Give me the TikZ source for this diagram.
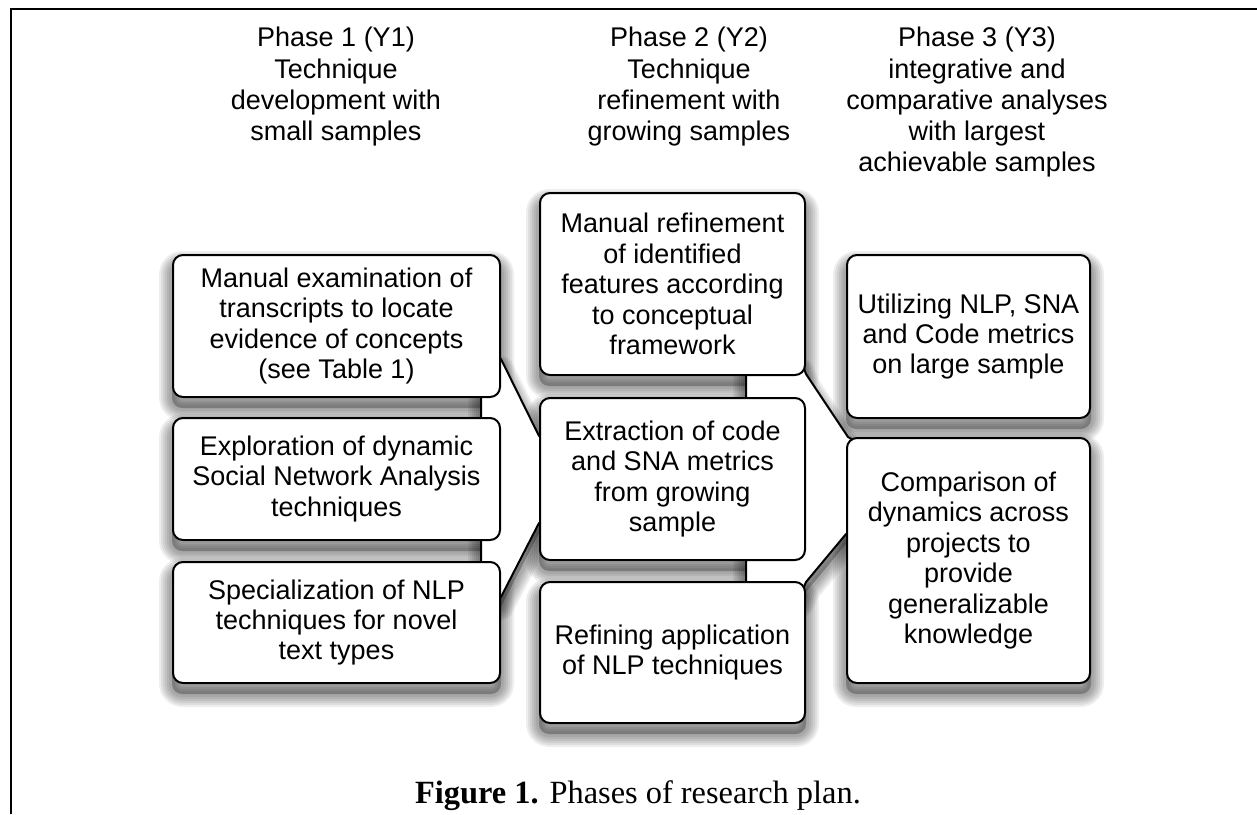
\documentclass[tikz,border=0pt]{standalone}
\usepackage{fontspec}
\setmainfont{Liberation Serif}
\newfontfamily\boxfont{Liberation Sans}
\usetikzlibrary{calc}
\pgfdeclarelayer{bglayer}
\pgfdeclarelayer{shadowlayer}
\pgfdeclarelayer{toplayer}
\pgfsetlayers{bglayer,shadowlayer,main,toplayer}
\newcommand\castshadow[1]{\path[shadowfill] #1;\foreach \w in {13,11,9,7,5,3}{\path[shadowstroke, line width=\w pt] #1;}}
\begin{document}
\begin{tikzpicture}[x=0.5pt,y=-0.5pt,
  box/.style={draw, line width=1pt, rounded corners=5pt, fill=white, align=center, inner sep=0pt,
    font=\boxfont\fontsize{13.5}{15.2}\selectfont},
  head/.style={align=center, inner sep=0pt, anchor=north, font=\boxfont\fontsize{13.5}{15.6}\selectfont},
  conn/.style={draw=black, fill=white, line width=1pt, line join=round},
  shadowfill/.style={fill=black, fill opacity=0.25, transform canvas={yshift=-5pt}},
  shadowstroke/.style={draw=black, draw opacity=0.065, line join=round, transform canvas={yshift=-5pt}},
  frame/.style={line width=1pt}]
\useasboundingbox (0,0) rectangle (1257,814);
\begin{pgfonlayer}{bglayer}
\fill[white] (0,0) rectangle (1257,814);
\end{pgfonlayer}

% frame
\coordinate (ftop) at (1257,9);
\coordinate (fcorner) at (11,9);
\coordinate (fbot) at (11,814);
\draw[frame] (ftop) -- (fcorner) -- (fbot);

% headers
\node[head] (H1) at (336,27) {Phase 1 (Y1)\\Technique\\development with\\small samples};
\node[head] (H2) at (689,27) {Phase 2 (Y2)\\Technique\\refinement with\\growing samples};
\node[head] (H3) at (977,27) {Phase 3 (Y3)\\integrative and\\comparative analyses\\with largest\\achievable samples};

% boxes (top layer)
\begin{pgfonlayer}{toplayer}
\node[box, minimum width=163.5pt, minimum height=71pt] (L1) at (336.5,326) {Manual examination of\\transcripts to locate\\evidence of concepts\\(see Table 1)};
\node[box, minimum width=163.5pt, minimum height=61pt] (L2) at (336.5,479) {Exploration of dynamic\\Social Network Analysis\\techniques};
\node[box, minimum width=163.5pt, minimum height=60.5pt] (L3) at (336.5,622.5) {Specialization of NLP\\techniques for novel\\text types};
\node[box, minimum width=132.5pt, minimum height=91pt] (M1) at (672.5,284) {Manual refinement\\of identified\\features according\\to conceptual\\framework};
\node[box, minimum width=132.5pt, minimum height=81pt] (M2) at (672.5,479) {Extraction of code\\and SNA metrics\\from growing\\sample};
\node[box, minimum width=132.5pt, minimum height=70.5pt] (M3) at (672.5,652.5) {Refining application\\of NLP techniques};
\node[box, minimum width=121.5pt, minimum height=81.5pt] (R1) at (968.5,336.5) {Utilizing NLP, SNA\\and Code metrics\\on large sample};
\node[box, minimum width=121.5pt, minimum height=122.5pt] (R2) at (968.5,560.5) {Comparison of\\dynamics across\\projects to\\provide\\generalizable\\knowledge};
\end{pgfonlayer}

% connectors (main layer, between shadows and boxes)
\draw[conn] ($(L1.south east)+(-20,-7)$) -- ($(L1.south east)+(0,-39)$) -- ($(M2.north west)+(0,39)$)
  -- ($(M2.north west)+(20,39)$) -- ($(M2.south west)+(20,-38)$) -- ($(M2.south west)+(0,-38)$)
  -- ($(L3.north east)+(0,36)$) -- ($(L3.north east)+(-20,38)$) -- cycle;
\draw[conn] ($(M1.south east)+(-60,-15)$) -- ($(M1.south east)+(-5,-15)$) -- ($(M1.south east)+(0,-2)$)
  -- ($(R2.north west)+(2,0)$) -- ($(R2.north west)+(23,12)$) -- ($(R2.north west)+(23,97)$)
  -- ($(R2.north west)+(0,97)$) -- ($(M3.north east)+(0,1)$) -- ($(M3.north east)+(-5,13)$)
  -- ($(M3.north east)+(-60,13)$) -- cycle;

% shadows
\begin{pgfonlayer}{shadowlayer}
\castshadow{[rounded corners=5pt] (L1.south west) rectangle (L1.north east)}
\castshadow{[rounded corners=5pt] (L2.south west) rectangle (L2.north east)}
\castshadow{[rounded corners=5pt] (L3.south west) rectangle (L3.north east)}
\castshadow{[rounded corners=5pt] (M1.south west) rectangle (M1.north east)}
\castshadow{[rounded corners=5pt] (M2.south west) rectangle (M2.north east)}
\castshadow{[rounded corners=5pt] (M3.south west) rectangle (M3.north east)}
\castshadow{[rounded corners=5pt] (R1.south west) rectangle (R1.north east)}
\castshadow{[rounded corners=5pt] (R2.south west) rectangle (R2.north east)}
\castshadow{($(L1.south east)+(-20,-7)$) -- ($(L1.south east)+(0,-39)$) -- ($(M2.north west)+(0,39)$)
  -- ($(M2.north west)+(20,39)$) -- ($(M2.south west)+(20,-38)$) -- ($(M2.south west)+(0,-38)$)
  -- ($(L3.north east)+(0,36)$) -- ($(L3.north east)+(-20,38)$) -- cycle}
\castshadow{($(M1.south east)+(-60,-15)$) -- ($(M1.south east)+(-5,-15)$) -- ($(M1.south east)+(0,-2)$)
  -- ($(R2.north west)+(2,0)$) -- ($(R2.north west)+(23,12)$) -- ($(R2.north west)+(23,97)$)
  -- ($(R2.north west)+(0,97)$) -- ($(M3.north east)+(0,1)$) -- ($(M3.north east)+(-5,13)$)
  -- ($(M3.north east)+(-60,13)$) -- cycle}
\end{pgfonlayer}

% caption
\node[anchor=base, inner sep=0pt, font=\fontsize{16.2}{19}\selectfont] (cap) at (638,803) {\textbf{Figure 1.} Phases of research plan.};
\end{tikzpicture}
\end{document}
